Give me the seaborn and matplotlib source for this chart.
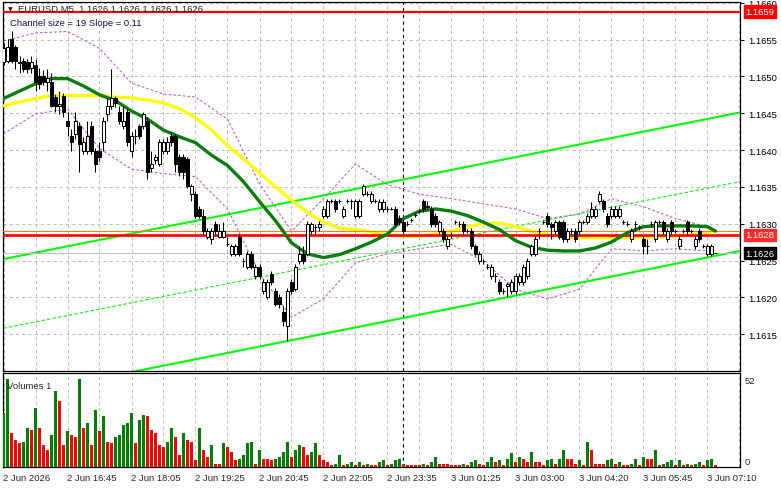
import numpy as np
import pandas as pd
import seaborn as sns
import matplotlib.pyplot as plt
from matplotlib.transforms import blended_transform_factory

# ---- EURUSD M5 bars (index 0..178) ----
opens = [1.16520, 1.16521, 1.16551, 1.16540, 1.16520, 1.16521, 1.16520, 1.16512, 1.16515, 1.16501,
         1.16500, 1.16492, 1.16493, 1.16472, 1.16460, 1.16474, 1.16440, 1.16419, 1.16422, 1.16432,
         1.16399, 1.16399, 1.16432, 1.16399, 1.16399, 1.16411, 1.16449, 1.16460, 1.16470, 1.16452,
         1.16432, 1.16452, 1.16399, 1.16419, 1.16432, 1.16432, 1.16440, 1.16376, 1.16386, 1.16381,
         1.16399, 1.16399, 1.16419, 1.16419, 1.16391, 1.16391, 1.16388, 1.16340, 1.16340, 1.16320,
         1.16311, 1.16282, 1.16279, 1.16300, 1.16282, 1.16282, 1.16273, 1.16259, 1.16259, 1.16282,
         1.16249, 1.16241, 1.16259, 1.16229, 1.16241, 1.16209, 1.16201, 1.16232, 1.16209, 1.16201,
         1.16180, 1.16161, 1.16221, 1.16211, 1.16249, 1.16259, 1.16259, 1.16290, 1.16295, 1.16295,
         1.16311, 1.16311, 1.16331, 1.16331, 1.16331, 1.16311, 1.16331, 1.16331, 1.16311, 1.16311,
         1.16340, 1.16340, 1.16331, 1.16331, 1.16320, 1.16320, 1.16320, 1.16320, 1.16320, 1.16308,
         1.16302, 1.16300, 1.16305, 1.16312, 1.16317, 1.16331, 1.16322, 1.16320, 1.16311, 1.16290,
         1.16290, 1.16270, 1.16285, 1.16302, 1.16300, 1.16300, 1.16290, 1.16290, 1.16270, 1.16249,
         1.16249, 1.16241, 1.16229, 1.16229, 1.16221, 1.16209, 1.16215, 1.16209, 1.16209, 1.16221,
         1.16221, 1.16229, 1.16259, 1.16259, 1.16290, 1.16302, 1.16311, 1.16300, 1.16290, 1.16302,
         1.16302, 1.16279, 1.16290, 1.16290, 1.16290, 1.16302, 1.16302, 1.16311, 1.16311, 1.16331,
         1.16331, 1.16311, 1.16311, 1.16311, 1.16311, 1.16302, 1.16300, 1.16279, 1.16300, 1.16295,
         1.16279, 1.16270, 1.16300, 1.16279, 1.16302, 1.16302, 1.16279, 1.16302, 1.16290, 1.16270,
         1.16290, 1.16302, 1.16290, 1.16270, 1.16290, 1.16270, 1.16259, 1.16259, 1.16260]
closes = [1.16538, 1.16540, 1.16521, 1.16521, 1.16518, 1.16510, 1.16510, 1.16520, 1.16493, 1.16490,
          1.16492, 1.16498, 1.16460, 1.16460, 1.16462, 1.16452, 1.16432, 1.16411, 1.16440, 1.16408,
          1.16411, 1.16419, 1.16399, 1.16381, 1.16391, 1.16440, 1.16460, 1.16470, 1.16464, 1.16440,
          1.16440, 1.16411, 1.16419, 1.16419, 1.16419, 1.16449, 1.16370, 1.16381, 1.16391, 1.16411,
          1.16411, 1.16411, 1.16411, 1.16381, 1.16370, 1.16370, 1.16351, 1.16351, 1.16311, 1.16311,
          1.16290, 1.16290, 1.16290, 1.16290, 1.16290, 1.16290, 1.16273, 1.16270, 1.16270, 1.16259,
          1.16249, 1.16259, 1.16241, 1.16241, 1.16229, 1.16221, 1.16221, 1.16221, 1.16191, 1.16191,
          1.16168, 1.16209, 1.16209, 1.16241, 1.16259, 1.16249, 1.16300, 1.16300, 1.16295, 1.16300,
          1.16320, 1.16331, 1.16331, 1.16320, 1.16331, 1.16320, 1.16331, 1.16331, 1.16331, 1.16331,
          1.16351, 1.16340, 1.16340, 1.16331, 1.16330, 1.16330, 1.16320, 1.16320, 1.16300, 1.16302,
          1.16290, 1.16300, 1.16305, 1.16312, 1.16317, 1.16320, 1.16324, 1.16300, 1.16300, 1.16302,
          1.16279, 1.16279, 1.16285, 1.16302, 1.16300, 1.16290, 1.16290, 1.16270, 1.16259, 1.16259,
          1.16249, 1.16241, 1.16241, 1.16229, 1.16209, 1.16209, 1.16218, 1.16221, 1.16229, 1.16229,
          1.16241, 1.16249, 1.16270, 1.16279, 1.16290, 1.16302, 1.16300, 1.16296, 1.16302, 1.16282,
          1.16279, 1.16290, 1.16290, 1.16279, 1.16302, 1.16302, 1.16311, 1.16320, 1.16320, 1.16340,
          1.16320, 1.16300, 1.16320, 1.16320, 1.16320, 1.16302, 1.16300, 1.16290, 1.16300, 1.16295,
          1.16270, 1.16270, 1.16300, 1.16302, 1.16302, 1.16290, 1.16290, 1.16290, 1.16290, 1.16279,
          1.16290, 1.16290, 1.16290, 1.16279, 1.16279, 1.16270, 1.16270, 1.16270, 1.16260]
highs = [1.16545, 1.16551, 1.16561, 1.16543, 1.16528, 1.16525, 1.16524, 1.16528, 1.16523, 1.16512,
         1.16508, 1.16510, 1.16504, 1.16476, 1.16480, 1.16478, 1.16452, 1.16429, 1.16452, 1.16438,
         1.16418, 1.16440, 1.16440, 1.16403, 1.16411, 1.16445, 1.16470, 1.16510, 1.16474, 1.16460,
         1.16460, 1.16456, 1.16424, 1.16429, 1.16436, 1.16452, 1.16445, 1.16399, 1.16395, 1.16415,
         1.16415, 1.16418, 1.16424, 1.16422, 1.16395, 1.16395, 1.16391, 1.16354, 1.16344, 1.16324,
         1.16320, 1.16294, 1.16294, 1.16304, 1.16300, 1.16302, 1.16282, 1.16273, 1.16273, 1.16286,
         1.16253, 1.16263, 1.16263, 1.16245, 1.16245, 1.16225, 1.16225, 1.16236, 1.16213, 1.16205,
         1.16188, 1.16213, 1.16225, 1.16245, 1.16270, 1.16270, 1.16304, 1.16302, 1.16300, 1.16304,
         1.16324, 1.16334, 1.16334, 1.16334, 1.16334, 1.16324, 1.16334, 1.16334, 1.16334, 1.16334,
         1.16354, 1.16344, 1.16344, 1.16334, 1.16334, 1.16334, 1.16324, 1.16322, 1.16324, 1.16312,
         1.16306, 1.16303, 1.16308, 1.16315, 1.16320, 1.16334, 1.16331, 1.16324, 1.16314, 1.16305,
         1.16294, 1.16283, 1.16289, 1.16305, 1.16304, 1.16304, 1.16293, 1.16294, 1.16273, 1.16263,
         1.16252, 1.16245, 1.16245, 1.16233, 1.16225, 1.16213, 1.16221, 1.16225, 1.16233, 1.16233,
         1.16245, 1.16253, 1.16273, 1.16283, 1.16294, 1.16305, 1.16314, 1.16302, 1.16305, 1.16305,
         1.16305, 1.16294, 1.16294, 1.16294, 1.16305, 1.16305, 1.16314, 1.16330, 1.16324, 1.16344,
         1.16334, 1.16314, 1.16324, 1.16324, 1.16324, 1.16305, 1.16303, 1.16294, 1.16303, 1.16298,
         1.16283, 1.16279, 1.16303, 1.16305, 1.16305, 1.16305, 1.16294, 1.16305, 1.16293, 1.16283,
         1.16293, 1.16305, 1.16293, 1.16283, 1.16294, 1.16273, 1.16273, 1.16273, 1.16260]
lows = [1.16515, 1.16518, 1.16518, 1.16510, 1.16504, 1.16506, 1.16505, 1.16504, 1.16480, 1.16483,
        1.16488, 1.16480, 1.16458, 1.16452, 1.16449, 1.16445, 1.16419, 1.16399, 1.16415, 1.16370,
        1.16395, 1.16395, 1.16395, 1.16370, 1.16385, 1.16399, 1.16440, 1.16456, 1.16458, 1.16436,
        1.16428, 1.16406, 1.16391, 1.16408, 1.16415, 1.16428, 1.16361, 1.16370, 1.16381, 1.16378,
        1.16395, 1.16395, 1.16406, 1.16370, 1.16365, 1.16361, 1.16348, 1.16331, 1.16308, 1.16308,
        1.16286, 1.16279, 1.16273, 1.16286, 1.16280, 1.16280, 1.16270, 1.16256, 1.16256, 1.16256,
        1.16241, 1.16238, 1.16238, 1.16225, 1.16225, 1.16205, 1.16198, 1.16217, 1.16188, 1.16186,
        1.16161, 1.16141, 1.16205, 1.16208, 1.16245, 1.16245, 1.16256, 1.16286, 1.16286, 1.16290,
        1.16308, 1.16308, 1.16328, 1.16316, 1.16328, 1.16308, 1.16328, 1.16320, 1.16308, 1.16308,
        1.16337, 1.16337, 1.16328, 1.16328, 1.16316, 1.16316, 1.16316, 1.16318, 1.16296, 1.16298,
        1.16286, 1.16297, 1.16302, 1.16309, 1.16314, 1.16316, 1.16320, 1.16296, 1.16296, 1.16286,
        1.16275, 1.16266, 1.16281, 1.16299, 1.16296, 1.16286, 1.16287, 1.16266, 1.16256, 1.16245,
        1.16245, 1.16238, 1.16225, 1.16221, 1.16205, 1.16205, 1.16200, 1.16205, 1.16205, 1.16217,
        1.16217, 1.16225, 1.16256, 1.16256, 1.16279, 1.16299, 1.16296, 1.16279, 1.16286, 1.16279,
        1.16275, 1.16275, 1.16286, 1.16275, 1.16286, 1.16299, 1.16299, 1.16308, 1.16308, 1.16328,
        1.16316, 1.16296, 1.16308, 1.16308, 1.16308, 1.16299, 1.16297, 1.16275, 1.16290, 1.16292,
        1.16259, 1.16259, 1.16297, 1.16275, 1.16299, 1.16286, 1.16275, 1.16286, 1.16287, 1.16266,
        1.16287, 1.16286, 1.16287, 1.16266, 1.16275, 1.16267, 1.16256, 1.16256, 1.16260]
volumes = [32, 52, 20, 16, 14, 15, 23, 22, 35, 23,
           13, 10, 19, 45, 39, 13, 21, 19, 18, 52,
           23, 26, 13, 34, 21, 30, 15, 14, 18, 19,
           25, 26, 32, 14, 28, 31, 30, 22, 20, 13,
           12, 15, 23, 18, 7, 20, 16, 15, 4, 23,
           10, 6, 13, 2, 2, 14, 12, 9, 4, 5,
           7, 14, 15, 2, 10, 5, 5, 4, 5, 6,
           9, 15, 6, 10, 13, 12, 7, 9, 14, 7,
           4, 3, 1, 2, 7, 1, 2, 3, 1, 3,
           1, 2, 1, 1, 3, 4, 1, 2, 4, 5,
           2, 1, 1, 1, 1, 2, 1, 3, 6, 2,
           2, 2, 1, 1, 1, 2, 1, 3, 4, 2,
           1, 3, 6, 3, 4, 1, 5, 8, 3, 6,
           5, 3, 9, 3, 3, 1, 4, 5, 2, 5,
           10, 5, 5, 2, 4, 1, 15, 10, 2, 2,
           2, 4, 5, 2, 3, 1, 1, 2, 5, 1,
           6, 5, 5, 10, 1, 2, 3, 4, 1, 4,
           1, 2, 1, 2, 3, 1, 4, 5, 1]

# ---- indicator lines (sampled from the chart) ----
ma_idx = list(range(0, 177, 4)) + [178]
green_ma = [1.16470, 1.16480, 1.16490, 1.16497, 1.16497, 1.16487, 1.16475, 1.16467, 1.16453, 1.16442,
            1.16427, 1.16418, 1.16410, 1.16393, 1.16379, 1.16357, 1.16330, 1.16304, 1.16274, 1.16259,
            1.16254, 1.16258, 1.16266, 1.16275, 1.16286, 1.16307, 1.16317, 1.16320, 1.16317, 1.16311,
            1.16302, 1.16292, 1.16277, 1.16268, 1.16264, 1.16263, 1.16263, 1.16267, 1.16275, 1.16288,
            1.16296, 1.16297, 1.16297, 1.16297, 1.16296, 1.16290]
yellow_ma = [1.16460, 1.16465, 1.16470, 1.16474, 1.16474, 1.16474, 1.16474, 1.16472, 1.16471, 1.16468,
             1.16464, 1.16456, 1.16444, 1.16427, 1.16406, 1.16388, 1.16369, 1.16350, 1.16332, 1.16315,
             1.16302, 1.16294, 1.16292, 1.16289, 1.16285, 1.16283, 1.16283, 1.16286, 1.16290, 1.16296,
             1.16300, 1.16301, 1.16296, 1.16290, 1.16285, 1.16282, 1.16281, 1.16281, 1.16281, 1.16281,
             1.16282, 1.16282, 1.16283, 1.16285, 1.16288, 1.16290]
band_idx = list(range(0, 177, 8))
upper_band = [1.16548, 1.16559, 1.16561, 1.16538, 1.16491, 1.16476, 1.16472, 1.16442, 1.16354, 1.16290,
              1.16334, 1.16381, 1.16353, 1.16340, 1.16334, 1.16327, 1.16320, 1.16307, 1.16313, 1.16334,
              1.16323, 1.16307, 1.16296]
lower_band = [1.16422, 1.16449, 1.16456, 1.16402, 1.16374, 1.16368, 1.16364, 1.16320, 1.16232, 1.16173,
              1.16198, 1.16247, 1.16259, 1.16266, 1.16272, 1.16249, 1.16211, 1.16198, 1.16211, 1.16266,
              1.16263, 1.16266, 1.16263]
channel_idx = [0, 184.1]
channel_upper = [1.16252, 1.16451]
channel_mid = [1.16158, 1.16357]
channel_lower = [1.16064, 1.16263]

level_top = 1.16588      # red line, box 1.1659
level_mid = 1.16285      # red line, box 1.1628
level_mid2 = 1.16290     # thin orange line
bid = 1.16260            # grey line, box 1.1626
separator_bar = 100
price_ticks = [1.1615, 1.1620, 1.1625, 1.1630, 1.1635, 1.1640, 1.1645, 1.1650, 1.1655, 1.1660]
time_labels = ["2 Jun 2026", "2 Jun 16:45", "2 Jun 18:05", "2 Jun 19:25", "2 Jun 20:45", "2 Jun 22:05",
               "2 Jun 23:35", "3 Jun 01:25", "3 Jun 03:00", "3 Jun 04:20", "3 Jun 05:45", "3 Jun 07:10"]
time_label_bars = list(range(0, 177, 16))

sns.set_style("white")
plt.rcParams['font.family'] = ['Liberation Sans', 'DejaVu Sans']

W, H = 781, 489
fig = plt.figure(figsize=(W / 100, H / 100), dpi=100)


def box(x0, y0, x1, y1):
    return [x0 / W, 1 - y1 / H, (x1 - x0) / W, (y1 - y0) / H]


ax = fig.add_axes(box(3, 3, 740, 372))
axv = fig.add_axes(box(3, 374, 740, 468))

df = pd.DataFrame({'o': opens, 'h': highs, 'l': lows, 'c': closes, 'v': volumes})
df['i'] = np.arange(len(df))

grid_kw = dict(color='#C0C0C0', lw=0.75, ls=(0, (3, 3)), zorder=0)
for a in (ax, axv):
    for gx in range(0, 185, 8):
        a.axvline(gx, **grid_kw)
    a.axvline(separator_bar, color='black', lw=0.8, ls=(0, (3, 3)), zorder=1)
for p in price_ticks:
    ax.axhline(p, **grid_kw)

# channel
sns.lineplot(x=channel_idx, y=channel_upper, ax=ax, color='#00FF00', linewidth=1.5, legend=False, zorder=2)
sns.lineplot(x=channel_idx, y=channel_lower, ax=ax, color='#00FF00', linewidth=1.5, legend=False, zorder=2)
sns.lineplot(x=channel_idx, y=channel_mid, ax=ax, color='#00FF00', linewidth=0.8,
             linestyle=(0, (3, 2)), legend=False, zorder=2)

# bands
for b in (upper_band, lower_band):
    sns.lineplot(x=band_idx, y=b, ax=ax, color='#BA55D3', linewidth=0.75,
                 linestyle=(0, (2.5, 2)), legend=False, zorder=2)

sns.lineplot(x=ma_idx, y=yellow_ma, ax=ax, color='#FFFF00', linewidth=2.3, legend=False, zorder=3)

ax.axhline(level_top, color='#FF0000', lw=1.6, zorder=4)
ax.axhline(level_mid, color='#FF0000', lw=1.9, zorder=4)
ax.axhline(level_mid2, color='#FF7A1A', lw=0.8, zorder=4)
ax.axhline(bid, color='#C0C0C0', lw=0.8, zorder=4)

sns.lineplot(x=ma_idx, y=green_ma, ax=ax, color='#0A7D0A', linewidth=2.4, legend=False, zorder=5)

# candles
up = df[df.c > df.o]
down = df[df.c < df.o]
doji = df[df.c == df.o]
ax.vlines(df.i, df.l, df.h, color='black', lw=0.75, zorder=6)
ax.bar(up.i, up.c - up.o, bottom=up.o, width=0.6, color='white', edgecolor='black', linewidth=0.75, zorder=7)
ax.bar(down.i, down.o - down.c, bottom=down.c, width=0.6, color='black', edgecolor='black', linewidth=0.75, zorder=7)
ax.hlines(doji.o, doji.i - 0.4, doji.i + 0.4, color='black', lw=0.75, zorder=7)

# volumes: green when volume rises vs previous bar
vol_up = df.v.diff().fillna(1) > 0
vcolors = np.where(vol_up, '#008000', '#FF0000')
axv.bar(df.i, df.v, width=0.72, color=vcolors, linewidth=0, zorder=3)

ax.set_xlim(-0.125, 184.125)
axv.set_xlim(-0.125, 184.125)
ax.set_ylim(1.16100, 1.16601)
axv.set_ylim(0, 55.6)

for a in (ax, axv):
    for s in a.spines.values():
        s.set_color('black')
        s.set_linewidth(0.9)

ax.set_xticks([])
ax.yaxis.tick_right()
ax.set_yticks(price_ticks)
ax.set_yticklabels([f"{p:.4f}" for p in price_ticks])
ax.tick_params(axis='y', length=3, width=0.7, labelsize=6.8, pad=3, colors='black')
ax.set_xlabel('')
ax.set_ylabel('')

axv.set_yticks([])
axv.set_xticks(time_label_bars)
axv.set_xticklabels([])
axv.tick_params(axis='x', length=3, width=0.7, direction='out')
axv.set_xlabel('')
axv.set_ylabel('')

tr = blended_transform_factory(axv.transData, axv.transAxes)
for b, lab in zip(time_label_bars, time_labels):
    axv.text(b - 0.1, -0.11, lab, transform=tr, ha='left', va='center', fontsize=6.8, clip_on=False)

trv = blended_transform_factory(axv.transAxes, axv.transData)
axv.text(1.006, 51.2, "52", transform=trv, ha='left', va='center', fontsize=6.8, clip_on=False)
axv.text(1.006, 3.3, "0", transform=trv, ha='left', va='center', fontsize=6.8, clip_on=False)
axv.text(0.006, 0.87, "Volumes 1", transform=axv.transAxes, ha='left', va='center', fontsize=6.8)

trp = blended_transform_factory(ax.transAxes, ax.transData)
for val, lab, fc in [(level_top, "1.1659", '#FF0000'), (level_mid, "1.1628", '#FF2A2A'), (bid, "1.1626", 'black')]:
    ax.text(1.0075, val, lab, transform=trp, ha='left', va='center', fontsize=6.8, color='white',
            clip_on=False, zorder=20,
            bbox=dict(boxstyle='square,pad=0.18', fc=fc, ec=fc))

fig.text(7.5 / W, 1 - 10 / H, '▼', fontsize=4.5, family='DejaVu Sans', ha='left', va='center')
fig.text(18 / W, 1 - 9.5 / H, "EURUSD,M5  1.1626 1.1626 1.1626 1.1626", fontsize=6.8, ha='left', va='center')
fig.text(10 / W, 1 - 23 / H, "Channel size = 19 Slope = 0.11", fontsize=6.8, ha='left', va='center',
         color='#10104A')

fig.savefig("out.png", dpi=100)
